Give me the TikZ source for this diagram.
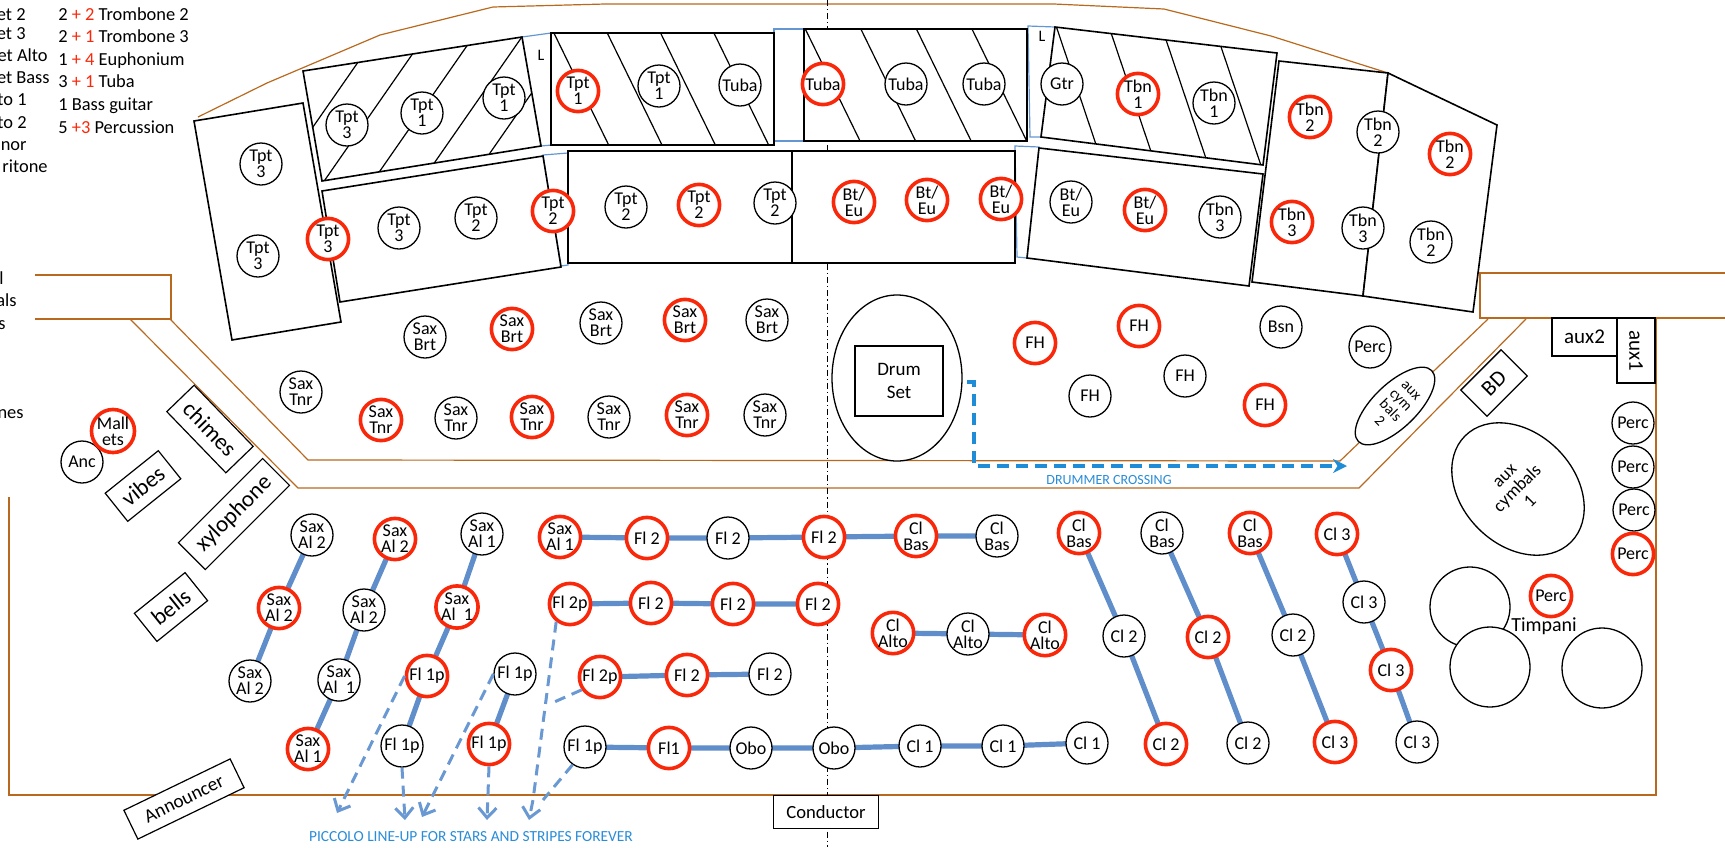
\documentclass[tikz,border=0pt]{standalone}
\usepackage{fontspec}
\setmainfont{Carlito}
\usetikzlibrary{shapes.geometric,arrows.meta}
\pgfdeclarelayer{bg}
\pgfsetlayers{bg,main}
\definecolor{stagebrown}{RGB}{185,105,30}
\definecolor{seatred}{RGB}{250,40,10}
\definecolor{chainblue}{RGB}{95,142,202}
\definecolor{gapblue}{RGB}{100,150,210}
\definecolor{piccblue}{RGB}{105,152,210}
\definecolor{crossblue}{RGB}{30,140,215}
\definecolor{textblue}{RGB}{40,140,215}
\tikzset{
 seat/.style={circle,draw=black,line width=0.65pt,fill=white,minimum size=21pt,inner sep=0pt,align=center,font=\fontsize{9}{8}\selectfont},
 rseat/.style={seat,draw=seatred,line width=1.8pt,minimum size=20.6pt},
 blk/.style={draw=black,line width=0.8pt,fill=white},
 gapbox/.style={draw=gapblue,line width=0.6pt},
 stage/.style={draw=stagebrown,line width=0.6pt},
 chain/.style={draw=chainblue,line width=2.6pt},
 picc/.style={draw=piccblue,line width=1.5pt,dash pattern=on 5.5pt off 3.5pt},
 piccarrow/.style={picc,-{Straight Barb[length=5pt,width=9pt]}},
 crossarrow/.style={draw=crossblue,line width=1.8pt,dash pattern=on 6pt off 3.5pt,-{Stealth[length=7pt,width=7pt]}},
 hatchline/.style={draw=black,line width=0.6pt},
 instbox/.style={draw=black,fill=white,line width=0.6pt,inner sep=0pt,font=\fontsize{11.5}{12}\selectfont},
 legend/.style={inner sep=0pt,font=\fontsize{9.2}{11}\selectfont},
 lbl/.style={inner sep=0pt,font=\fontsize{8}{9}\selectfont},
 timp/.style={circle,draw,line width=0.65pt,fill=white,minimum size=40pt,inner sep=0pt},
}
\begin{document}
\begin{tikzpicture}[x=0.5pt,y=-0.5pt]
\useasboundingbox (0,0) rectangle (1725,847);

% ---------- stage outline ----------
\draw[stage] (198,117)--(267,83)--(380,35)--(493,7)--(605,4)--(1054,4)--(1164,9)--(1271,36)--(1388,73)--(1468,114);
\draw[stage] (35,275)--(171,275)--(171,319)--(35,319);
\draw[stage] (170,319)--(308,460)--(1340,461)--(1488,319);
\draw[stage] (130,319)--(298,488)--(1359,488)--(1526,319);
\draw[stage] (1725,273)--(1480,273)--(1480,318)--(1725,318);
\draw[stage] (1656,318)--(1656,795)--(9,795)--(9,497);

% ---------- centre line ----------
\draw[line width=0.5pt,dash pattern=on 3pt off 1.5pt on 0.6pt off 1.5pt] (827,0)--(827,847);

% ---------- gaps ----------
\draw[gapbox] (522,37)--(551,33)--(552,145)--(541,146)--cycle;
\draw[gapbox] (774,29)--(804,29)--(804,141)--(774,141)--cycle;
\draw[gapbox] (1028,26)--(1055,27)--(1041,137)--(1030,137)--cycle;
\draw[gapbox] (543,155)--(568,153)--(568,265)--(561,266)--cycle;
\draw[gapbox] (1015,146)--(1039,147)--(1027,258)--(1017,257)--cycle;
\node[lbl] (L1) at (541,55) {L};
\node[lbl] (L2) at (1042,36) {L};

% ---------- brass blocks ----------
\draw[blk] (194,121)--(303,103)--(341,322)--(232,340)--cycle;
\draw[blk] (303,71)--(522,37)--(541,146)--(322,181)--cycle;
\draw[blk] (551,33) rectangle (774,145);
\draw[blk] (804,29) rectangle (1027,141);
\draw[blk] (1055,27)--(1277,53)--(1263,165)--(1041,137)--cycle;
\draw[blk] (1279,61)--(1388,73)--(1363,296)--(1252,282)--cycle;
\draw[blk] (1388,73)--(1497,125)--(1473,312)--(1363,296)--cycle;
\draw[blk] (322,191)--(543,156)--(561,267)--(340,302)--cycle;
\draw[blk] (568,151) rectangle (792,263);
\draw[blk] (792,151) rectangle (1015,263);
\draw[blk] (1039,148)--(1263,174)--(1249,286)--(1027,258)--cycle;

% hatching
\begin{scope}
\clip (303,71)--(522,37)--(541,146)--(322,181)--cycle;
\foreach \c in {329,369,409,449,489} \draw[hatchline] ({\c/0.82},0)--({(\c-114)/0.82},200);
\end{scope}
\begin{scope}
\clip (551,33) rectangle (774,145);
\foreach \c in {484,532,580,628} \draw[hatchline] ({\c/0.9},0)--({(\c+88)/0.9},200);
\end{scope}
\begin{scope}
\clip (804,29) rectangle (1027,141);
\foreach \c in {712,762,812,862} \draw[hatchline] ({\c/0.9},0)--({(\c+88)/0.9},200);
\end{scope}
\begin{scope}
\clip (1055,27)--(1277,53)--(1263,165)--(1041,137)--cycle;
\foreach \c in {995,1045,1095,1145} \draw[hatchline] ({\c/0.95},0)--({(\c+64)/0.95},200);
\end{scope}

% ---------- brass seats ----------
\node[seat] (a1) at (261,164) {Tpt\\3};
\node[seat] (a2) at (258,256) {Tpt\\3};
\node[seat] (b1) at (347,125) {Tpt\\3};
\node[seat] (b2) at (422,113) {Tpt\\1};
\node[seat] (b3) at (504,98) {Tpt\\1};
\node[rseat] (c1) at (578,91) {Tpt\\1};
\node[seat] (c2) at (659,86) {Tpt\\1};
\node[seat] (c3) at (740,85) {Tuba};
\node[rseat] (d1) at (823,84) {Tuba};
\node[seat] (d2) at (906,84) {Tuba};
\node[seat] (d3) at (984,84) {Tuba};
\node[seat] (e1) at (1062,84) {Gtr};
\node[rseat] (e2) at (1138,94) {Tbn\\1};
\node[seat] (e3) at (1214,103) {Tbn\\1};
\node[rseat] (f1) at (1310,117) {Tbn\\2};
\node[seat] (f2) at (1378,132) {Tbn\\2};
\node[rseat] (f3) at (1450,154) {Tbn\\2};
\node[rseat] (f4) at (1292,222) {Tbn\\3};
\node[seat] (f5) at (1363,228) {Tbn\\3};
\node[seat] (f6) at (1431,242) {Tbn\\2};
\node[rseat] (h1) at (328,239) {Tpt\\3};
\node[seat] (h2) at (399,228) {Tpt\\3};
\node[seat] (h3) at (476,218) {Tpt\\2};
\node[rseat] (h4) at (553,211) {Tpt\\2};
\node[seat] (i1) at (626,207) {Tpt\\2};
\node[rseat] (i2) at (699,205) {Tpt\\2};
\node[seat] (i3) at (775,203) {Tpt\\2};
\node[rseat] (j1) at (854,202) {Bt/\\Eu};
\node[rseat] (j2) at (927,200) {Bt/\\Eu};
\node[rseat] (j3) at (1001,199) {Bt/\\Eu};
\node[seat] (k1) at (1071,202) {Bt/\\Eu};
\node[rseat] (k2) at (1145,210) {Bt/\\Eu};
\node[seat] (k3) at (1220,217) {Tbn\\3};

% ---------- saxes ----------
\node[seat] (sb1) at (425,337) {Sax\\Brt};
\node[rseat] (sb2) at (512,329) {Sax\\Brt};
\node[seat] (sb3) at (601,323) {Sax\\Brt};
\node[rseat] (sb4) at (685,320) {Sax\\Brt};
\node[seat] (sb5) at (767,320) {Sax\\Brt};
\node[seat] (st0) at (301,392) {Sax\\Tnr};
\node[rseat] (st1) at (381,420) {Sax\\Tnr};
\node[seat] (st2) at (456,418) {Sax\\Tnr};
\node[rseat] (st3) at (532,417) {Sax\\Tnr};
\node[seat] (st4) at (609,417) {Sax\\Tnr};
\node[rseat] (st5) at (687,415) {Sax\\Tnr};
\node[seat] (st6) at (765,415) {Sax\\Tnr};

% ---------- drums, horns ----------
\node[ellipse,draw,line width=0.65pt,fill=white,minimum width=65pt,minimum height=83pt,inner sep=0pt] (drum) at (897,378) {};
\node[draw,line width=0.65pt,minimum width=44pt,minimum height=35pt,inner sep=0pt,align=center,font=\fontsize{9.5}{11.5}\selectfont] (drumset) at (899,381) {Drum\\Set};
\node[rseat] (fh1) at (1035,343) {FH};
\node[rseat] (fh2) at (1139,326) {FH};
\node[seat] (fh3) at (1090,396) {FH};
\node[seat] (fh4) at (1185,376) {FH};
\node[rseat] (fh5) at (1265,405) {FH};
\node[seat] (bsn) at (1281,327) {Bsn};
\node[seat] (perc0) at (1370,347) {Perc};

% ---------- percussion right ----------
\node[ellipse,draw,line width=0.65pt,fill=white,rotate=-46,minimum width=22pt,minimum height=51pt,inner sep=0pt,align=center,font=\fontsize{7.5}{7.3}\selectfont] (auxc2) at (1395,406) {aux\\cym\\bals\\2};
\node[draw,line width=0.65pt,fill=white,rotate=45,minimum width=28.5pt,minimum height=18.5pt,inner sep=0pt,font=\fontsize{11}{12}\selectfont] (bd) at (1494,383) {BD};
\node[draw,line width=0.65pt,fill=white,minimum width=32.5pt,minimum height=19pt,inner sep=0pt,font=\fontsize{10.5}{12}\selectfont] (aux2) at (1584.5,337) {aux2};
\node[draw,line width=0.65pt,fill=white,rotate=-90,minimum width=32.5pt,minimum height=19pt,inner sep=0pt,font=\fontsize{10.5}{12}\selectfont] (aux1) at (1636,350.5) {aux1};
\node[ellipse,draw,line width=0.65pt,fill=white,rotate=45,minimum width=56pt,minimum height=75pt,inner sep=0pt,align=center,font=\fontsize{9}{9}\selectfont] (auxc1) at (1518,489) {aux\\cymbals\\1};
\node[seat] (pc1) at (1633,423) {Perc};
\node[seat] (pc2) at (1633,467) {Perc};
\node[seat] (pc3) at (1634,510) {Perc};
\node[rseat] (pc4) at (1633,554) {Perc};
\node[timp] (tp1) at (1470,607) {};
\node[timp] (tp2) at (1490,667) {};
\node[timp] (tp3) at (1602,668) {};
\node[rseat] (pc5) at (1551,596) {Perc};
\node[inner sep=0pt,font=\fontsize{10}{12}\selectfont] (timp) at (1544,626) {Timpani};

% ---------- mallet percussion left ----------
\node[seat] (anc) at (82,462) {Anc};
\node[rseat] (mall) at (113,431) {Mall\\ets};
\node[instbox,rotate=-46,minimum width=42.5pt,minimum height=19pt] (chimes) at (210,429) {chimes};
\node[instbox,rotate=38.7,minimum width=34pt,minimum height=18pt] (vibes) at (143,486) {vibes};
\node[instbox,rotate=45,minimum width=59.5pt,minimum height=19pt] (xylo) at (234,514) {xylophone};
\node[instbox,rotate=38.8,minimum width=32.5pt,minimum height=18pt] (bells) at (171,607) {bells};
\node[instbox,rotate=25.8,minimum width=59pt,minimum height=16pt,font=\fontsize{9.6}{11}\selectfont] (annc) at (184,799) {Announcer};
\node[instbox,minimum width=52.5pt,minimum height=16.5pt,font=\fontsize{9.3}{11}\selectfont] (cond) at (826,812) {Conductor};

% ---------- woodwinds ----------
\node[seat] (sa2a) at (312,535) {Sax\\Al 2};
\node[rseat] (sa2b) at (279,608) {Sax\\Al 2};
\node[seat] (sa2c) at (250,681) {Sax\\Al 2};
\node[rseat] (sa2d) at (395,539) {Sax\\Al 2};
\node[seat] (sa2e) at (364,610) {Sax\\Al 2};
\node[seat] (sa1a) at (339,680) {Sax\\Al\ \ 1};
\node[rseat] (sa1b) at (308,749) {Sax\\Al 1};
\node[seat] (sa1c) at (482,534) {Sax\\Al 1};
\node[rseat] (sa1d) at (457,607) {Sax\\Al\ \ 1};
\node[rseat] (fpa) at (427,676) {Fl 1p};
\node[seat] (fpb) at (402,746) {Fl 1p};
\node[seat] (fpc) at (515,674) {Fl 1p};
\node[rseat] (fpd) at (489,744) {Fl 1p};
\node[rseat] (sa1e) at (560,537) {Sax\\Al 1};
\node[rseat] (f2a) at (647,538) {Fl 2};
\node[seat] (f2b) at (728,538) {Fl 2};
\node[rseat] (f2c) at (824,537) {Fl 2};
\node[rseat] (cb1) at (916,536) {Cl\\Bas};
\node[seat] (cb2) at (997,536) {Cl\\Bas};
\node[rseat] (f2pa) at (570,604) {Fl 2p};
\node[rseat] (f2d) at (651,603) {Fl 2};
\node[rseat] (f2e) at (733,604) {Fl 2};
\node[rseat] (f2f) at (818,604) {Fl 2};
\node[rseat] (f2pb) at (600,677) {Fl 2p};
\node[rseat] (f2g) at (687,675) {Fl 2};
\node[seat] (f2h) at (770,674) {Fl 2};
\node[seat] (fpe) at (585,747) {Fl 1p};
\node[rseat] (fl1) at (669,748) {Fl1};
\node[seat] (obo1) at (751,748) {Obo};
\node[seat] (obo2) at (834,748) {Obo};
\node[seat] (cl1a) at (920,746) {Cl 1};
\node[seat] (cl1b) at (1003,746) {Cl 1};
\node[seat] (cl1c) at (1087,743) {Cl 1};
\node[rseat] (ca1) at (893,633) {Cl\\Alto};
\node[seat] (ca2) at (968,634) {Cl\\Alto};
\node[rseat] (ca3) at (1045,635) {Cl\\Alto};
\node[rseat] (cb3) at (1079,533) {Cl\\Bas};
\node[seat] (c2a) at (1124,636) {Cl 2};
\node[rseat] (c2b) at (1166,744) {Cl 2};
\node[seat] (cb4) at (1162,533) {Cl\\Bas};
\node[rseat] (c2c) at (1208,637) {Cl 2};
\node[seat] (c2d) at (1248,743) {Cl 2};
\node[rseat] (cb5) at (1250,533) {Cl\\Bas};
\node[seat] (c2e) at (1293,635) {Cl 2};
\node[rseat] (c3a) at (1335,742) {Cl 3};
\node[rseat] (c3b) at (1337,534) {Cl 3};
\node[seat] (c3c) at (1364,602) {Cl 3};
\node[rseat] (c3d) at (1391,670) {Cl 3};
\node[seat] (c3e) at (1417,742) {Cl 3};

% ---------- connectors ----------
\begin{pgfonlayer}{bg}
\draw[chain] (sa2a.center)--(sa2b.center)--(sa2c.center);
\draw[chain] (sa2d.center)--(sa2e.center)--(sa1a.center)--(sa1b.center);
\draw[chain] (sa1c.center)--(sa1d.center)--(fpa.center)--(fpb.center);
\draw[chain] (fpc.center)--(fpd.center);
\draw[chain] (sa1e.center)--(f2a.center)--(f2b.center)--(f2c.center)--(cb1.center)--(cb2.center);
\draw[chain] (f2pa.center)--(f2d.center)--(f2e.center)--(f2f.center);
\draw[chain] (f2pb.center)--(f2g.center)--(f2h.center);
\draw[chain] (fpe.center)--(fl1.center)--(obo1.center)--(obo2.center)--(cl1a.center)--(cl1b.center)--(cl1c.center);
\draw[chain] (ca1.center)--(ca2.center)--(ca3.center);
\draw[chain] (cb3.center)--(c2a.center)--(c2b.center);
\draw[chain] (cb4.center)--(c2c.center)--(c2d.center);
\draw[chain] (cb5.center)--(c2e.center)--(c3a.center);
\draw[chain] (c3b.center)--(c3c.center)--(c3d.center)--(c3e.center);
\end{pgfonlayer}

% piccolo line-up
\coordinate (pe1) at (337,813);
\coordinate (pe2) at (405,820);
\coordinate (pe3) at (422,817);
\coordinate (pe4) at (487,820);
\coordinate (pe5) at (529,820);
\coordinate (pm5) at (533,800);
\coordinate (pj6) at (552,703);
\coordinate (pj7) at (543,800);
\draw[piccarrow] (fpa.west)--(pe1);
\draw[piccarrow] (fpb.south)--(pe2);
\draw[piccarrow] (fpc.west)--(pe3);
\draw[piccarrow] (fpd.south)--(pe4);
\draw[piccarrow] (f2pa.232)--(pm5)--(pe5);
\draw[picc] (f2pb.215)--(pj6);
\draw[picc] (fpe.235)--(pj7);
\node[inner sep=0pt,text=textblue,font=\fontsize{7.7}{9}\selectfont] (picctext) at (471,837) {PICCOLO LINE-UP FOR STARS AND STRIPES FOREVER};

% drummer crossing
\coordinate (dcA) at (967,382);
\coordinate (dcB) at (1347,466);
\draw[crossarrow] (dcA)--++(7,0)|-(dcB);
\node[inner sep=0pt,text=textblue,font=\fontsize{7}{9}\selectfont] (dctext) at (1109,480) {DRUMMER CROSSING};

% ---------- legend ----------
\node[legend,anchor=base east] (lg1) at (26,20) {et 2};
\node[legend,anchor=base east] (lg2) at (26,39) {et 3};
\node[legend,anchor=base east] (lg3) at (48,61) {et Alto};
\node[legend,anchor=base east] (lg4) at (50,83) {et Bass};
\node[legend,anchor=base east] (lg5) at (27,105) {to 1};
\node[legend,anchor=base east] (lg6) at (27,128) {to 2};
\node[legend,anchor=base east] (lg7) at (27,150) {enor};
\node[legend,anchor=base east] (lg8) at (48,172) {ritone};
\node[legend,anchor=base west] (lr1) at (58,20) {2 \textcolor{seatred}{+ 2} Trombone 2};
\node[legend,anchor=base west] (lr2) at (58,42) {2 \textcolor{seatred}{+ 1} Trombone 3};
\node[legend,anchor=base west] (lr3) at (58,65) {1 \textcolor{seatred}{+ 4} Euphonium};
\node[legend,anchor=base west] (lr4) at (58,87) {3 \textcolor{seatred}{+ 1} Tuba};
\node[legend,anchor=base west] (lr5) at (58,110) {1 Bass guitar};
\node[legend,anchor=base west] (lr6) at (58,133) {5 \textcolor{seatred}{+3} Percussion};
\node[legend,anchor=base east] (lm1) at (4,284) {l};
\node[legend,anchor=base east] (lm2) at (17,306) {als};
\node[legend,anchor=base east] (lm3) at (6,329) {s};
\node[legend,anchor=base east] (lm4) at (24,418) {nes};
\end{tikzpicture}
\end{document}
